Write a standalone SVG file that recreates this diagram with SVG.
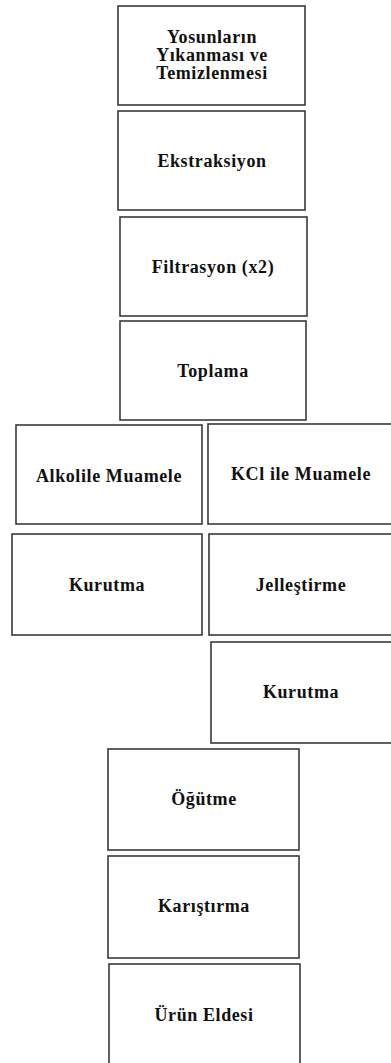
<svg xmlns="http://www.w3.org/2000/svg" width="391" height="1063" viewBox="0 0 391 1063">
<style>
.box{fill:#ffffff;stroke:#3a3a3a;stroke-width:1.6}
.lbl{font-family:"Liberation Serif","Times New Roman",serif;font-weight:bold;font-size:18px;letter-spacing:0.6px;fill:#111;text-anchor:middle}
</style>
<rect width="391" height="1063" fill="#ffffff"/>
<g id="connectors"></g>
<g id="n1"><rect class="box" x="118" y="6" width="187" height="99"/>
<text class="lbl" x="212" y="43">Yosunların</text><text class="lbl" x="212" y="61">Yıkanması ve</text><text class="lbl" x="212" y="79">Temizlenmesi</text></g>
<g id="n2"><rect class="box" x="118" y="111" width="187" height="99"/><text class="lbl" x="212" y="167">Ekstraksiyon</text></g>
<g id="n3"><rect class="box" x="120" y="217" width="187" height="99"/><text class="lbl" x="213" y="273">Filtrasyon (x2)</text></g>
<g id="n4"><rect class="box" x="120" y="321" width="186" height="99"/><text class="lbl" x="213" y="377">Toplama</text></g>
<g id="n5"><rect class="box" x="16" y="425" width="186" height="99"/><text class="lbl" x="109" y="482">Alkolile Muamele</text></g>
<g id="n6"><rect class="box" x="208" y="424" width="190" height="100"/><text class="lbl" x="301" y="480">KCl ile Muamele</text></g>
<g id="n7"><rect class="box" x="12" y="534" width="190" height="101"/><text class="lbl" x="107" y="591">Kurutma</text></g>
<g id="n8"><rect class="box" x="209" y="534" width="189" height="101"/><text class="lbl" x="301" y="591">Jelleştirme</text></g>
<g id="n9"><rect class="box" x="211" y="642" width="187" height="101"/><text class="lbl" x="301" y="698">Kurutma</text></g>
<g id="n10"><rect class="box" x="108" y="749" width="191" height="101"/><text class="lbl" x="204" y="805">Öğütme</text></g>
<g id="n11"><rect class="box" x="108" y="856" width="191" height="102"/><text class="lbl" x="204" y="912">Karıştırma</text></g>
<g id="n12"><rect class="box" x="109" y="964" width="191" height="110"/><text class="lbl" x="204" y="1021">Ürün Eldesi</text></g>
</svg>
